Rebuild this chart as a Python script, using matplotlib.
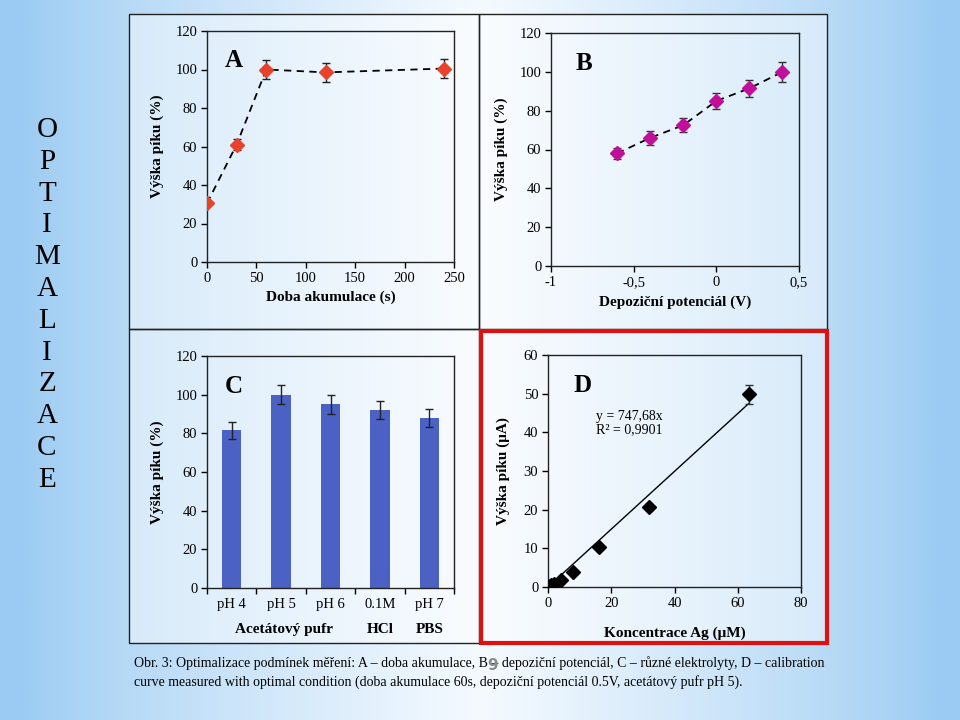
import numpy as np
import matplotlib
matplotlib.use("Agg")
import matplotlib.pyplot as plt
from matplotlib.patches import Rectangle

plt.rcParams['font.family'] = ['Liberation Serif', 'DejaVu Serif']
plt.rcParams['font.size'] = 10

# A - doba akumulace
time_s = [0, 30, 60, 120, 240]
peak_a = [30.5, 61, 100, 98.5, 100.5]
err_a = [1.0, 3.0, 5.0, 5.0, 5.0]

# B - depozicni potencial
pot_v = [-0.6, -0.4, -0.2, 0.0, 0.2, 0.4]
peak_b = [58, 66, 72.5, 85, 91.5, 100]
err_b = [3.0, 3.5, 3.5, 4.0, 4.5, 5.0]

# C - elektrolyty
cats_c = ['pH 4', 'pH 5', 'pH 6', '0.1M', 'pH 7']
groups_c = ['Acetátový pufr', 'HCl', 'PBS']
peak_c = [81.5, 100, 95, 92, 88]
err_c = [4.3, 5.0, 5.0, 4.5, 4.5]

# D - kalibrace
conc = [0, 0.5, 1, 2, 4, 8, 16, 32, 63.5]
peak_d = [0, 0.2, 0.4, 0.9, 1.8, 3.8, 10.4, 20.7, 49.8]
err_d = [0.1, 0.1, 0.1, 0.2, 0.3, 0.3, 0.4, 0.8, 2.5]
slope = 747.68
r2 = 0.9901

W, H = 960, 720
fig = plt.figure(figsize=(9.6, 7.2), dpi=100)

def px(x0, y0, x1, y1):
    return [x0 / W, 1 - y1 / H, (x1 - x0) / W, (y1 - y0) / H]

# background gradient
bg = fig.add_axes([0, 0, 1, 1], zorder=-10)
xx = np.linspace(0, 1, 400)
t = np.clip(1 - np.abs(xx - 0.5) * 2.1, 0, 1) ** 0.8
edge = np.array([155, 203, 242]) / 255
center = np.array([245, 250, 255]) / 255
row = edge[None, :] * (1 - t[:, None]) + center[None, :] * t[:, None]
img = np.repeat(row[None, :, :], 10, axis=0)
bg.imshow(img, aspect='auto', extent=[0, 1, 0, 1])
bg.set_axis_off()

# panel boxes
fig.add_artist(Rectangle((129 / W, 1 - 643 / H), (827 - 129) / W, (643 - 14) / H,
                         transform=fig.transFigure, facecolor='white', alpha=0.45,
                         edgecolor='none', zorder=-5))
for (x0, y0, x1, y1) in [(129, 14, 479, 329), (479, 14, 827, 329), (129, 329, 479, 643)]:
    fig.add_artist(Rectangle((x0 / W, 1 - y1 / H), (x1 - x0) / W, (y1 - y0) / H,
                             transform=fig.transFigure, facecolor='none',
                             edgecolor='#222222', lw=1.0))
fig.add_artist(Rectangle((481 / W, 1 - 643 / H), (827 - 481) / W, (643 - 331) / H,
                         transform=fig.transFigure, facecolor='none',
                         edgecolor='#e01010', lw=3.0, zorder=5))

def style(ax):
    ax.set_facecolor('none')
    for s in ax.spines.values():
        s.set_linewidth(1.0)
        s.set_color('#222222')
    ax.tick_params(direction='out', length=4, width=1, labelsize=10.5,
                   top=False, right=False, pad=3)

lab = dict(fontsize=11, fontweight='bold')
letter = dict(fontsize=18, fontweight='bold')

# A
axA = fig.add_axes(px(207, 31, 454, 262))
style(axA)
axA.errorbar(time_s, peak_a, yerr=err_a, fmt='D', color='#e8432a', ms=7,
             ecolor='#222222', elinewidth=1, capsize=3, zorder=3)
axA.plot(time_s, peak_a, ls='--', color='black', lw=1.3, dashes=(4, 3), zorder=2)
axA.set_xlim(0, 250)
axA.set_ylim(0, 120)
axA.set_xticks(range(0, 251, 50))
axA.set_yticks(range(0, 121, 20))
axA.set_xlabel('Doba akumulace (s)', labelpad=4, **lab)
axA.set_ylabel('Výška píku (%)', labelpad=8, **lab)
axA.text(0.07, 0.92, 'A', transform=axA.transAxes, va='top', **letter)

# B
axB = fig.add_axes(px(551, 33, 799, 266))
style(axB)
axB.errorbar(pot_v, peak_b, yerr=err_b, xerr=0.015, fmt='D', color='#c0109a', ms=7,
             ecolor='#333333', elinewidth=1, capsize=3, zorder=3)
axB.plot(pot_v, peak_b, ls='--', color='black', lw=1.3, dashes=(4, 3), zorder=2)
axB.set_xlim(-1, 0.5)
axB.set_ylim(0, 120)
axB.set_xticks([-1, -0.5, 0, 0.5])
axB.set_xticklabels(['-1', '-0,5', '0', '0,5'])
axB.set_yticks(range(0, 121, 20))
axB.set_xlabel('Depoziční potenciál (V)', labelpad=5, **lab)
axB.set_ylabel('Výška píku (%)', labelpad=8, **lab)
axB.text(0.1, 0.92, 'B', transform=axB.transAxes, va='top', **letter)

# C
axC = fig.add_axes(px(207, 356, 454, 588))
style(axC)
xc = np.arange(len(cats_c))
axC.bar(xc, peak_c, width=0.39, color='#4b61c4', zorder=2)
axC.errorbar(xc, peak_c, yerr=err_c, fmt='none', ecolor='#222222',
             elinewidth=1, capsize=3, zorder=3)
axC.set_xlim(-0.5, len(cats_c) - 0.5)
axC.set_ylim(0, 120)
axC.set_yticks(range(0, 121, 20))
axC.set_xticks(np.arange(-0.5, len(cats_c), 1.0))
axC.set_xticklabels([])
axC.set_xticks(xc, minor=True)
axC.set_xticklabels(cats_c, minor=True)
axC.tick_params(axis='x', which='minor', length=0, labelsize=10.5, pad=7)
axC.set_ylabel('Výška píku (%)', labelpad=8, **lab)
for gx, g in zip([1.05, 3, 4], groups_c):
    axC.text(gx, -0.15, g, transform=axC.get_xaxis_transform(), ha='center',
             va='top', **lab)
axC.text(0.07, 0.92, 'C', transform=axC.transAxes, va='top', **letter)

# D
axD = fig.add_axes(px(548, 355, 801, 587))
style(axD)
xfit = np.array([0, max(conc)])
axD.plot(xfit, slope / 1000 * xfit, color='black', lw=1.0, zorder=2)
axD.errorbar(conc, peak_d, yerr=err_d, fmt='D', color='black', ms=7,
             ecolor='#333333', elinewidth=1, capsize=3, zorder=3)
axD.set_xlim(0, 80)
axD.set_ylim(0, 60)
axD.set_xticks(range(0, 81, 20))
axD.set_yticks(range(0, 61, 10))
axD.set_xlabel('Koncentrace Ag (μM)', labelpad=12, **lab)
axD.set_ylabel('Výška píku (μA)', labelpad=10, **lab)
axD.text(0.19, 0.765, 'y = 747,68x\nR² = 0,9901', transform=axD.transAxes,
         va='top', fontsize=10, linespacing=1.1)
axD.text(0.1, 0.92, 'D', transform=axD.transAxes, va='top', **letter)

# left title
for i, ch in enumerate('OPTIMALIZACE'):
    fig.text(47 / W, 1 - (130 + i * 31.8) / H, ch, ha='center', va='center',
             fontsize=21)

# caption
fig.text(134 / W, 1 - 663 / H,
         'Obr. 3: Optimalizace podmínek měření: A – doba akumulace, B – depoziční potenciál, '
         'C – různé elektrolyty, D – calibration',
         ha='left', va='center', fontsize=10)
fig.text(134 / W, 1 - 682 / H,
         'curve measured with optimal condition (doba akumulace 60s, depoziční potenciál 0.5V, '
         'acetátový pufr pH 5).',
         ha='left', va='center', fontsize=10)
fig.text(493 / W, 1 - 666 / H, '9', ha='center', va='center', fontsize=11,
         fontweight='bold', color='#8a8a8a', family='DejaVu Sans')

fig.savefig('out.png', dpi=100)
